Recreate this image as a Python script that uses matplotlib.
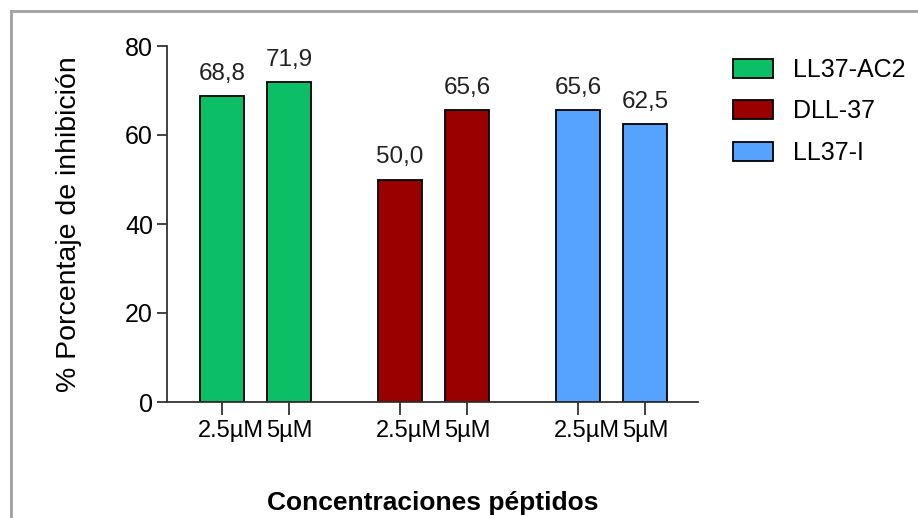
import numpy as np
import matplotlib.pyplot as plt
from matplotlib.lines import Line2D
from matplotlib.transforms import ScaledTranslation

plt.rcParams['font.family'] = ['Liberation Sans', 'DejaVu Sans']

peptides = ["LL37-AC2", "DLL-37", "LL37-I"]
concentrations = ["2.5µM", "5µM"]
inhibition = [[68.8, 71.9], [50.0, 65.6], [65.6, 62.5]]
value_labels = [["68,8", "71,9"], ["50,0", "65,6"], ["65,6", "62,5"]]
colors = ["#0cbf66", "#990000", "#55a2ff"]

fig = plt.figure(figsize=(9.18, 5.18), dpi=100)
ax = fig.add_axes([167 / 918, 1 - 402 / 518, (698 - 167) / 918, (402 - 46) / 518])

group_gap = 178 / 67
tick_pos = []
tick_lab = []
for i, name in enumerate(peptides):
    xs = i * group_gap + np.arange(len(concentrations))
    bars = ax.bar(xs, inhibition[i], width=0.67, color=colors[i], edgecolor="black",
                  linewidth=1.3, label=name)
    for b, lab in zip(bars, value_labels[i]):
        ax.annotate(lab, (b.get_x() + b.get_width() / 2, b.get_height()),
                    xytext=(0, 8), textcoords="offset points", ha="center", va="bottom",
                    fontsize=17.5, color="#222222")
    tick_pos.extend(xs)
    tick_lab.extend(concentrations)

ax.set_xlim(-55 / 67, 476 / 67)
ax.set_ylim(0, 80)
ax.set_yticks([0, 20, 40, 60, 80])
ax.set_xticks(tick_pos)
ax.set_xticklabels(tick_lab)
ax.tick_params(axis="y", labelsize=18, length=7, width=1.3, color="#333333", pad=3)
ax.tick_params(axis="x", labelsize=17, length=9, width=1.3, color="#333333", pad=4)
# first label of each pair sits a bit right of its tick, as in the original
shift = ScaledTranslation(9 / 100, 0, fig.dpi_scale_trans)
for k, t in enumerate(ax.get_xticklabels()):
    if k % 2 == 0:
        t.set_transform(t.get_transform() + shift)
for s in ["top", "right"]:
    ax.spines[s].set_visible(False)
for s in ["left", "bottom"]:
    ax.spines[s].set_linewidth(1.3)
    ax.spines[s].set_color("#333333")

ax.set_ylabel("% Porcentaje de inhibición", fontsize=20.5, labelpad=31)
ax.set_xlabel("Concentraciones péptidos", fontsize=19, fontweight="bold", labelpad=35)

ax.legend(loc="upper left", bbox_to_anchor=(733 / 918, 1 - 58 / 518),
          bbox_transform=fig.transFigure, frameon=False, fontsize=18, borderpad=0,
          borderaxespad=0, handlelength=1.6, handleheight=0.8, labelspacing=0.7,
          handletextpad=0.8)

fig.add_artist(Line2D([11 / 918, 1], [1 - 11 / 518, 1 - 11 / 518], color="#a0a0a0", lw=2))
fig.add_artist(Line2D([11 / 918, 11 / 918], [0, 1 - 11 / 518], color="#a0a0a0", lw=2))

fig.savefig("out.png", dpi=100)
